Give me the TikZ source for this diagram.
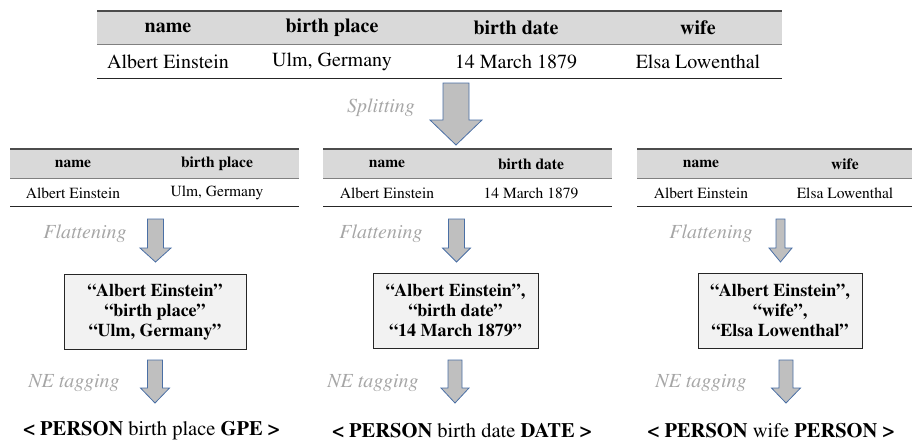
\documentclass[tikz,border=0pt]{standalone}
\usepackage[T1]{fontenc}
\renewcommand{\rmdefault}{ptm}
\usepackage{tikz}
\usetikzlibrary{positioning}
\definecolor{headgray}{HTML}{D9D9D9}
\definecolor{boxfill}{HTML}{F2F2F2}
\definecolor{boxline}{HTML}{262626}
\definecolor{labelgray}{HTML}{A6A6A6}
\definecolor{arrowfill}{HTML}{BFBFBF}
\definecolor{arrowline}{HTML}{4A6FA5}
\tikzstyle{hd}=[font=\fontsize{20}{24}\selectfont\bfseries]
\tikzstyle{cell}=[font=\fontsize{20}{24}\selectfont]
\tikzstyle{shd}=[font=\fontsize{15.5}{18}\selectfont\bfseries]
\tikzstyle{scell}=[font=\fontsize{15.5}{18}\selectfont]
\tikzstyle{lbl}=[font=\fontsize{20}{24}\selectfont\itshape, text=labelgray]
\tikzstyle{flat}=[draw=boxline, fill=boxfill, line width=0.9pt, inner sep=0pt, align=center,
  minimum height=75pt, font=\fontsize{18}{20}\selectfont\bfseries]
\tikzstyle{tag}=[font=\fontsize{20.5}{24}\selectfont]
\tikzset{blk/.style={draw=arrowline, fill=arrowfill, line width=0.8pt, line join=miter}}
% block arrow pointing down: x, top, base, tip, shaft half width, head half width
\newcommand{\downblock}[6]{%
  \draw[blk] ({#1-#5},#2) -- ({#1+#5},#2) -- ({#1+#5},#3) -- ({#1+#6},#3) -- (#1,#4)
    -- ({#1-#6},#3) -- ({#1-#5},#3) -- cycle;}
% table frame: left, right, top, middle, bottom
\newcommand{\tabframe}[5]{%
  \fill[headgray] (#1,#3) rectangle (#2,#4);
  \draw[line width=1.2pt, draw=black!70] (#1,#3) -- (#2,#3);
  \draw[line width=0.8pt, draw=black!50] (#1,#4) -- (#2,#4);
  \draw[line width=1pt, draw=black!85] (#1,#5) -- (#2,#5);}

\begin{document}
\begin{tikzpicture}[x=1pt,y=-1pt]
  \useasboundingbox (0,0) rectangle (915,447);

  % full table
  \tabframe{97}{782}{11}{44}{78}
  \node [hd] (hname) at (168,28) {name};
  \node [hd] (hplace) at (332,28) {birth place};
  \node [hd] (hdate) at (516,28) {birth date};
  \node [hd] (hwife) at (698,28) {wife};
  \node [cell] (cname) at (168,62) {Albert Einstein};
  \node [cell] (cplace) at (332,62) {Ulm, Germany};
  \node [cell] (cdate) at (516,62) {14 March 1879};
  \node [cell] (cwife) at (698,62) {Elsa Lowenthal};

  \downblock{456}{83}{120}{145}{13}{26}
  \node [lbl] (split) at (381,108) {Splitting};

  % split tables
  \tabframe{10}{299}{149}{178}{206}
  \tabframe{323}{612}{149}{178}{206}
  \tabframe{637}{912}{149}{178}{206}
  \node [shd] (pname) at (73,164) {name};
  \node [shd] (pkey) at (217,164) {birth place};
  \node [scell] (pval1) at (73,193) {Albert Einstein};
  \node [scell] (pval2) at (217,193) {Ulm, Germany};
  \node [shd] (dname) at (387,164) {name};
  \node [shd] (dkey) at (531,164) {birth date};
  \node [scell] (dval1) at (387,193) {Albert Einstein};
  \node [scell] (dval2) at (531,193) {14 March 1879};
  \node [shd] (wname) at (701,164) {name};
  \node [shd] (wkey) at (845,164) {wife};
  \node [scell] (wval1) at (701,193) {Albert Einstein};
  \node [scell] (wval2) at (845,193) {Elsa Lowenthal};

  % flattening
  \downblock{155.5}{219}{248}{262}{8}{15.5}
  \downblock{456.5}{219}{248}{262}{8}{14}
  \downblock{780.5}{219}{248}{262}{4.5}{11.5}
  \node [lbl] (flat1) at (85,234) {Flattening};
  \node [lbl] (flat2) at (381,234) {Flattening};
  \node [lbl] (flat3) at (711,234) {Flattening};

  \node [flat, minimum width=182pt] (seq1) at (155,312)
    {``Albert Einstein''\\``birth place''\\``Ulm, Germany''};
  \node [flat, minimum width=165pt] (seq2) at (455.5,310.5)
    {``Albert Einstein'',\\``birth date''\\``14 March 1879''};
  \node [flat, minimum width=164pt] (seq3) at (780,310.5)
    {``Albert Einstein'',\\``wife'',\\``Elsa Lowenthal''};

  % NE tagging
  \downblock{155}{360}{388}{403}{7.5}{14.5}
  \downblock{455}{360}{388}{403}{7}{14}
  \downblock{786}{360}{388}{403}{7}{14.5}
  \node [lbl] (ne1) at (74,383) {NE tagging};
  \node [lbl] (ne2) at (373,383) {NE tagging};
  \node [lbl] (ne3) at (701,383) {NE tagging};

  \node [tag] (out1) at (151.5,431) {\textbf{< PERSON} birth place \textbf{GPE >}};
  \node [tag] (out2) at (462,431) {\textbf{< PERSON} birth date \textbf{DATE >}};
  \node [tag] (out3) at (771,431) {\textbf{< PERSON} wife \textbf{PERSON >}};
\end{tikzpicture}
\end{document}
